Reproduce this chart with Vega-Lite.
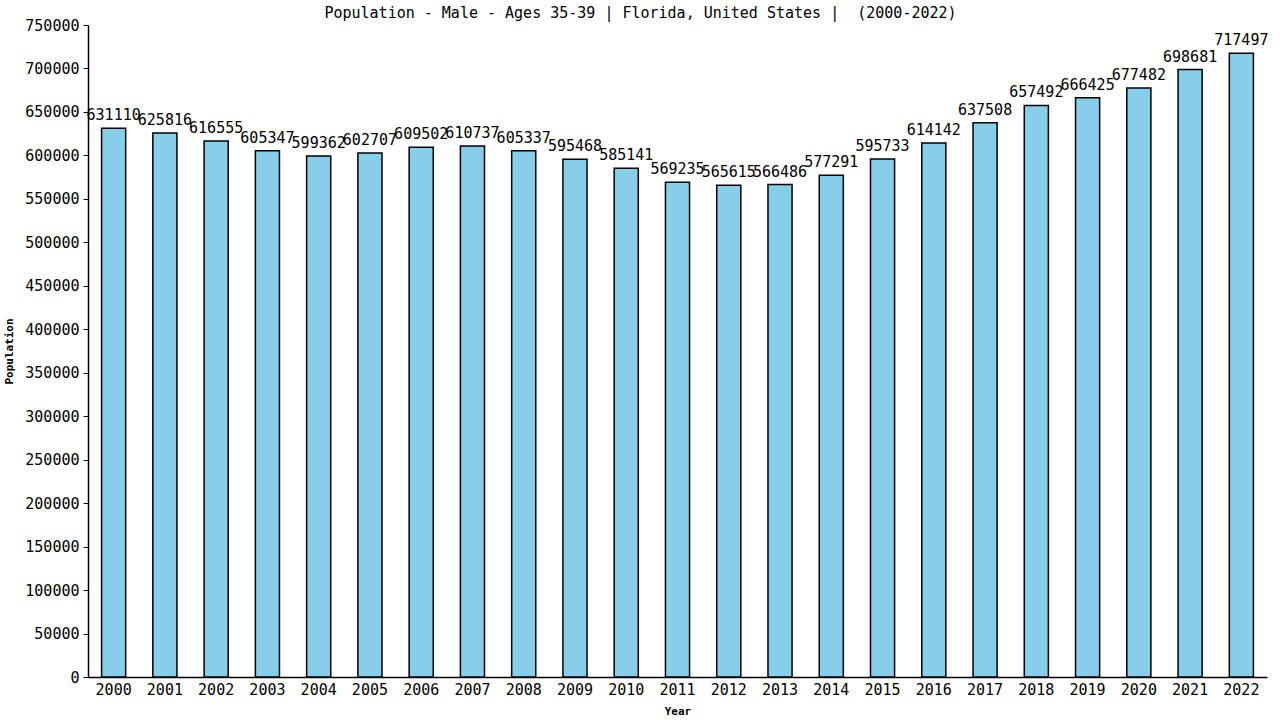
{
  "$schema": "https://vega.github.io/schema/vega-lite/v6.json",
  "autosize": {"type": "none"},
  "padding": {"left": 88, "top": 25, "right": 13, "bottom": 43},
  "width": 1179,
  "height": 652,
  "background": "white",
  "config": {"view": {"stroke": null}},
  "title": {
    "text": "Population - Male - Ages 35-39 | Florida, United States | \u00a0(2000-2022)",
    "font": "DejaVu Sans Mono",
    "fontSize": 15,
    "fontWeight": "normal",
    "color": "black",
    "anchor": "middle",
    "dx": -37,
    "dy": 3,
    "offset": 0
  },
  "data": {
    "values": [
      {"Year": "2000", "Population": 631110},
      {"Year": "2001", "Population": 625816},
      {"Year": "2002", "Population": 616555},
      {"Year": "2003", "Population": 605347},
      {"Year": "2004", "Population": 599362},
      {"Year": "2005", "Population": 602707},
      {"Year": "2006", "Population": 609502},
      {"Year": "2007", "Population": 610737},
      {"Year": "2008", "Population": 605337},
      {"Year": "2009", "Population": 595468},
      {"Year": "2010", "Population": 585141},
      {"Year": "2011", "Population": 569235},
      {"Year": "2012", "Population": 565615},
      {"Year": "2013", "Population": 566486},
      {"Year": "2014", "Population": 577291},
      {"Year": "2015", "Population": 595733},
      {"Year": "2016", "Population": 614142},
      {"Year": "2017", "Population": 637508},
      {"Year": "2018", "Population": 657492},
      {"Year": "2019", "Population": 666425},
      {"Year": "2020", "Population": 677482},
      {"Year": "2021", "Population": 698681},
      {"Year": "2022", "Population": 717497}
    ]
  },
  "encoding": {
    "x": {
      "field": "Year",
      "type": "ordinal",
      "scale": {"paddingInner": 0.53, "paddingOuter": 0.265},
      "axis": {
        "title": "Year",
        "titleFont": "DejaVu Sans Mono",
        "titleFontSize": 11,
        "titleFontWeight": "bold",
        "titlePadding": 8,
        "labelFont": "DejaVu Sans Mono",
        "labelFontSize": 15,
        "labelColor": "black",
        "labelAngle": 0,
        "labelPadding": 5,
        "ticks": false,
        "domainColor": "black",
        "domainWidth": 1.5,
        "grid": false
      }
    },
    "y": {
      "field": "Population",
      "type": "quantitative",
      "scale": {"domain": [0, 750000], "nice": false},
      "axis": {
        "title": "Population",
        "titleFont": "DejaVu Sans Mono",
        "titleFontSize": 11,
        "titleFontWeight": "bold",
        "titlePadding": 10,
        "labelFont": "DejaVu Sans Mono",
        "labelFontSize": 15,
        "labelColor": "black",
        "labelPadding": 4,
        "values": [0, 50000, 100000, 150000, 200000, 250000, 300000, 350000, 400000, 450000, 500000, 550000, 600000, 650000, 700000, 750000],
        "format": "d",
        "tickSize": 5,
        "tickColor": "black",
        "domainColor": "black",
        "domainWidth": 1.5,
        "grid": false
      }
    }
  },
  "layer": [
    {
      "mark": {"type": "bar", "color": "#87CEEB", "stroke": "black", "strokeWidth": 1.5}
    },
    {
      "mark": {"type": "text", "font": "DejaVu Sans Mono", "fontSize": 15, "color": "black", "baseline": "bottom", "dy": -5},
      "encoding": {"text": {"field": "Population", "type": "quantitative", "format": "d"}}
    }
  ]
}
